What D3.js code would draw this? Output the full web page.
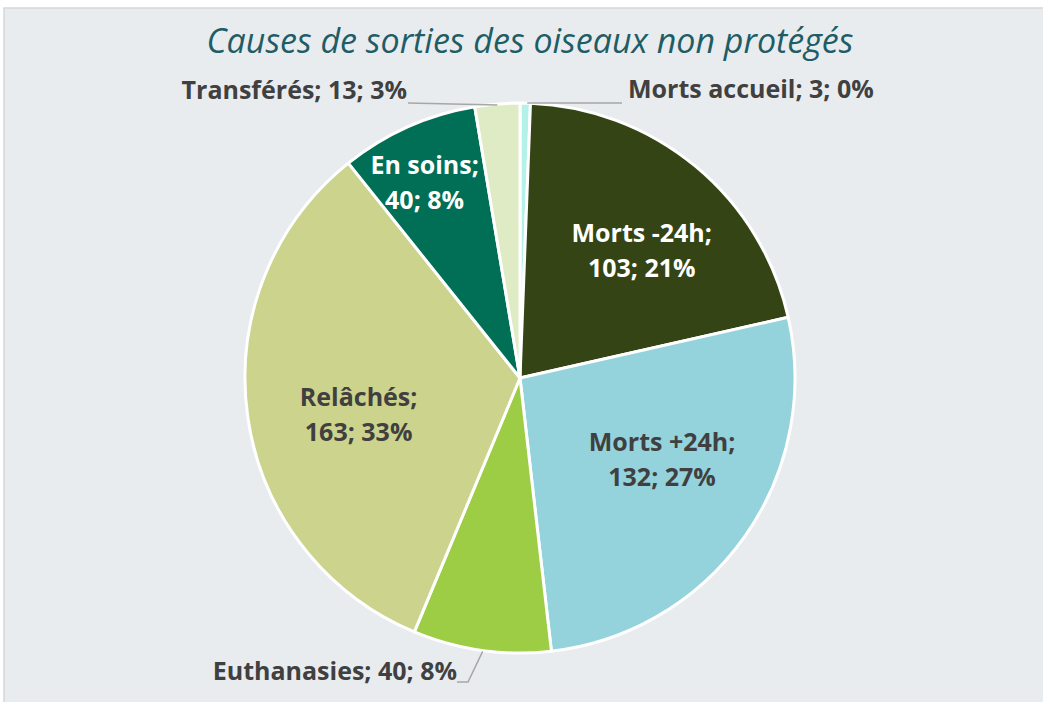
<!DOCTYPE html>
<html>
<head>
<meta charset="utf-8">
<script src="https://cdn.jsdelivr.net/npm/d3@7"></script>
<style>
  body { margin: 0; background: #fff; }
  svg { display: block; }
</style>
</head>
<body>
<svg id="chart"></svg>
<script>
const width = 1043
const height = 702

// data
const categories = ['Morts accueil', 'Morts -24h', 'Morts +24h', 'Euthanasies', 'Relâchés', 'En soins', 'Transférés']
const values = [3, 103, 132, 40, 163, 40, 13]
const percents = ['0%', '21%', '27%', '8%', '33%', '8%', '3%']
const colors = ['#b4f1e9', '#344414', '#94d3dc', '#9dcc45', '#ccd38d', '#006f56', '#deebc4']
const title = 'Causes de sorties des oiseaux non protégés'

// layout
const cx = 520
const cy = 378
const radius = 275
const font = '"Open Sans", Lato, sans-serif'
const fontSize = 25
// radius factor + nudge for the labels drawn inside slices
const insideLabels = {
  'Morts -24h': [0.63, 11, 6],
  'Morts +24h': [0.62, 3, -17],
  'Relâchés': [0.6, 2, 14],
  'En soins': [0.78, -8, 1]
}
const darkSlices = ['Morts -24h', 'En soins']

const rows = categories.map((c, i) => ({ name: c, value: values[i], pct: percents[i], color: colors[i] }))

const svg = d3.select('#chart').attr('width', width).attr('height', height)

svg.append('rect')
  .attr('x', 4).attr('y', 8)
  .attr('width', width + 10).attr('height', height)
  .attr('fill', '#e8ecef')
  .attr('stroke', '#d3d7da')
  .attr('stroke-width', 1.5)

svg.append('text')
  .attr('x', 530).attr('y', 53)
  .attr('text-anchor', 'middle')
  .attr('font-family', font)
  .attr('font-style', 'italic')
  .attr('font-size', 34)
  .attr('fill', '#1f5d66')
  .text(title)

const pie = d3.pie().sort(null).value(d => d.value)
const arcs = pie(rows)
const arc = d3.arc().innerRadius(0).outerRadius(radius)

const g = svg.append('g').attr('transform', `translate(${cx},${cy})`)

g.selectAll('path')
  .data(arcs)
  .enter().append('path')
  .attr('d', arc)
  .attr('fill', d => d.data.color)
  .attr('stroke', '#fff')
  .attr('stroke-width', 3)
  .attr('stroke-linejoin', 'round')

// inside labels
arcs.filter(d => insideLabels[d.data.name]).forEach(d => {
  const [k, nx, ny] = insideLabels[d.data.name]
  const c = d3.arc().innerRadius(radius * k).outerRadius(radius * k).centroid(d)
  const x = c[0] + nx
  const y = c[1] + ny
  const t = g.append('text')
    .attr('text-anchor', 'middle')
    .attr('font-family', font)
    .attr('font-weight', 700)
    .attr('font-size', fontSize)
    .attr('fill', darkSlices.includes(d.data.name) ? '#ffffff' : '#404040')
  t.append('tspan').attr('x', x).attr('y', y - 9).text(d.data.name + ';')
  t.append('tspan').attr('x', x).attr('y', y + 26).text(`${d.data.value}; ${d.data.pct}`)
})

// outside labels with leader lines
function edge(d, r) {
  const a = (d.startAngle + d.endAngle) / 2
  return [Math.sin(a) * r, -Math.cos(a) * r]
}

const outside = {
  'Morts accueil': { anchor: 'start', dx: 108, dy: -280, line: p => [[p[0] + 2, p[1]], [102, -275]] },
  'Transférés': { anchor: 'end', dx: -113, dy: -279, line: p => [[p[0], p[1] + 1], [-112, -275]] },
  'Euthanasies': { anchor: 'end', dx: -63, dy: 302, line: p => [[p[0] + 1, p[1] + 1], [-52, 304], [-63, 304]] }
}

arcs.filter(d => outside[d.data.name]).forEach(d => {
  const o = outside[d.data.name]
  const p = edge(d, radius)
  g.append('path')
    .attr('d', d3.line()(o.line(p)))
    .attr('fill', 'none')
    .attr('stroke', '#a6a6a6')
    .attr('stroke-width', 1.5)
  g.append('text')
    .attr('x', o.dx).attr('y', o.dy)
    .attr('text-anchor', o.anchor)
    .attr('font-family', font)
    .attr('font-weight', 700)
    .attr('font-size', fontSize)
    .attr('fill', '#404040')
    .text(`${d.data.name}; ${d.data.value}; ${d.data.pct}`)
})
</script>
</body>
</html>
